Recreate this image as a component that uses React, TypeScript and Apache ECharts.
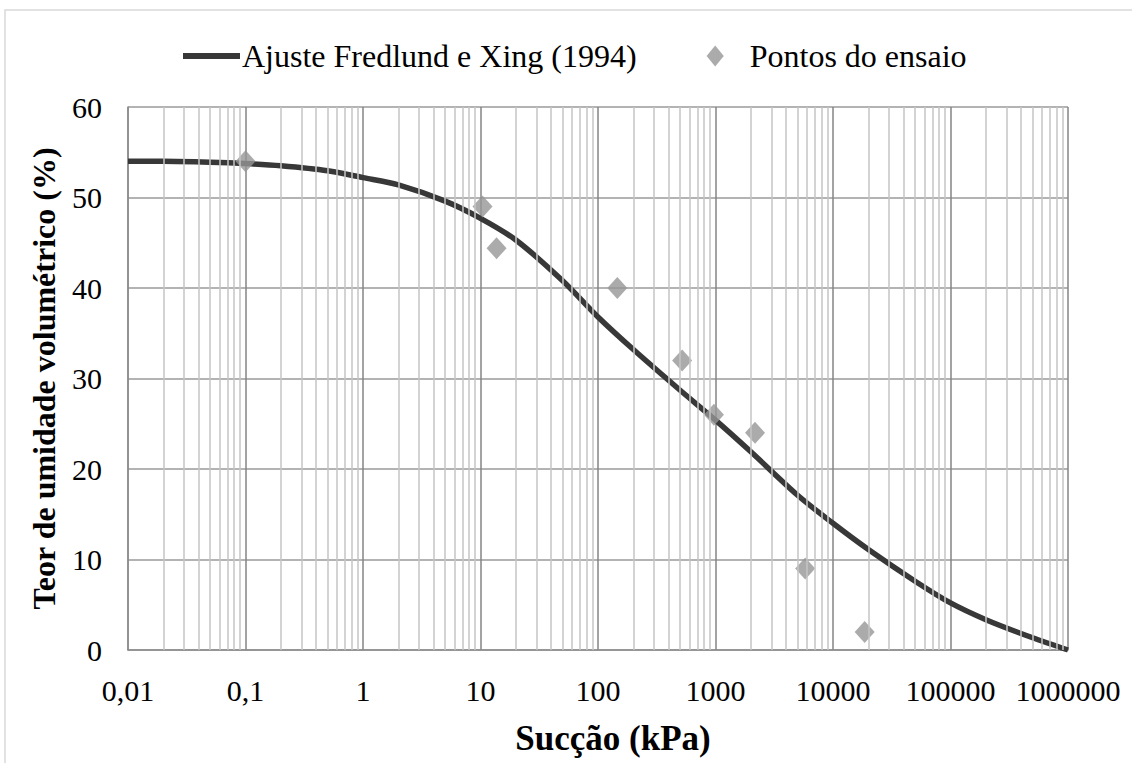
import React, { useEffect, useRef } from "react";
import * as echarts from "echarts";

const curveSuction = [0.01, 0.02, 0.05, 0.1, 0.2, 0.5, 1, 2, 5, 10, 20, 50, 100, 200, 500, 1000, 2000, 5000, 10000, 20000, 50000, 100000, 200000, 500000, 1000000];
const curveTheta = [54.0, 54.0, 53.9, 53.75, 53.5, 52.95, 52.2, 51.4, 49.6, 47.7, 45.3, 40.8, 36.8, 33.2, 28.7, 25.4, 21.9, 17.1, 14.0, 11.1, 7.6, 5.2, 3.35, 1.35, 0];

const pointSuction = [0.1, 10.4, 13.7, 146, 520, 970, 2170, 5800, 18600];
const pointTheta = [54, 49, 44.4, 40, 32, 26, 24, 9, 2];

const yTicks = [0, 10, 20, 30, 40, 50, 60];
const decades = [-2, -1, 0, 1, 2, 3, 4, 5];
const minorMultipliers = [2, 3, 4, 5, 6, 7, 8, 9];

const lineName = "Ajuste Fredlund e Xing (1994)";
const pointName = "Pontos do ensaio";
const xTitle = "Sucção (kPa)";
const yTitle = "Teor de umidade volumétrico (%)";

const FONT = "'Liberation Serif', 'Times New Roman', serif";

function fmtX(v: number): string {
  const e = Math.round(Math.log10(v));
  if (e < 0) return "0," + "0".repeat(-e - 1) + "1";
  return "1" + "0".repeat(e);
}

export default function App() {
  const ref = useRef<HTMLDivElement>(null);
  useEffect(() => {
    if (!ref.current) return;
    const chart = echarts.init(ref.current, null, { renderer: "svg" });
    const minorLines: { xAxis: number }[] = [];
    decades.forEach((d) => minorMultipliers.forEach((k) => minorLines.push({ xAxis: k * Math.pow(10, d) })));
    chart.setOption({
      animation: false,
      backgroundColor: "#fff",
      graphic: [
        {
          type: "rect",
          shape: { x: 5, y: 10, width: 1200, height: 900 },
          style: { fill: "none", stroke: "#d9d9d9", lineWidth: 1.5 },
          silent: true,
          z: -10,
        },
      ],
      legend: {
        top: 35,
        left: 178,
        data: [
          { name: lineName, icon: "path://M0,0 L57,0 L57,6 L0,6 Z", itemStyle: { color: "#383838" } },
          {
            name: pointName,
            icon: "path://M9,0 L18,11 L9,22 L0,11 Z",
            itemStyle: { color: "#969696" },
            textStyle: { padding: [0, 0, 0, 1] },
          },
        ],
        itemWidth: 57,
        itemHeight: 21,
        itemGap: 70,
        textStyle: { fontFamily: FONT, fontSize: 32, color: "#000", padding: [0, 0, 0, -3] },
      },
      grid: { left: 128, right: 64, top: 107, bottom: 113, containLabel: false },
      xAxis: {
        type: "log",
        logBase: 10,
        min: 0.01,
        max: 1000000,
        splitNumber: 8,
        name: xTitle,
        nameLocation: "middle",
        nameGap: 71,
        nameTextStyle: { fontFamily: FONT, fontSize: 35, fontWeight: "bold", color: "#000", padding: [0, 0, 0, 30] },
        axisLine: { show: true, lineStyle: { color: "#8c8c8c", width: 1.5 } },
        axisTick: { show: false },
        axisLabel: { formatter: fmtX, fontFamily: FONT, fontSize: 30, color: "#000", margin: 25 },
        splitLine: { show: true, lineStyle: { color: "#858585", width: 1.5 } },
        minorTick: { show: false },
        minorSplitLine: { show: false },
      },
      yAxis: {
        type: "value",
        min: yTicks[0],
        max: yTicks[yTicks.length - 1],
        interval: 10,
        name: yTitle,
        nameLocation: "middle",
        nameGap: 68,
        nameTextStyle: { fontFamily: FONT, fontSize: 32, fontWeight: "bold", color: "#000" },
        axisLine: { show: true, lineStyle: { color: "#8c8c8c", width: 1.5 } },
        axisTick: { show: false },
        axisLabel: { fontFamily: FONT, fontSize: 30, color: "#000", margin: 26 },
        splitLine: { show: true, lineStyle: { color: "#9a9a9a", width: 1.5 } },
      },
      series: [
        {
          name: "minor-grid",
          type: "line",
          data: [],
          silent: true,
          z: 1,
          markLine: {
            silent: true,
            symbol: ["none", "none"],
            label: { show: false },
            lineStyle: { color: "#c4c4c4", width: 1.5, type: "solid" },
            data: minorLines,
          },
        },
        {
          name: lineName,
          type: "line",
          smooth: 0.3,
          showSymbol: false,
          symbol: "none",
          z: 3,
          lineStyle: { color: "#383838", width: 5.5 },
          itemStyle: { color: "#383838" },
          data: curveSuction.map((x, i) => [x, curveTheta[i]]),
        },
        {
          name: pointName,
          type: "scatter",
          symbol: "diamond",
          symbolSize: [20, 22],
          z: 4,
          itemStyle: { color: "#969696" },
          data: pointSuction.map((x, i) => [x, pointTheta[i]]),
        },
      ],
    });
    return () => chart.dispose();
  }, []);
  return <div ref={ref} style={{ width: 1132, height: 763, position: "absolute", left: 0, top: 0 }} />;
}
